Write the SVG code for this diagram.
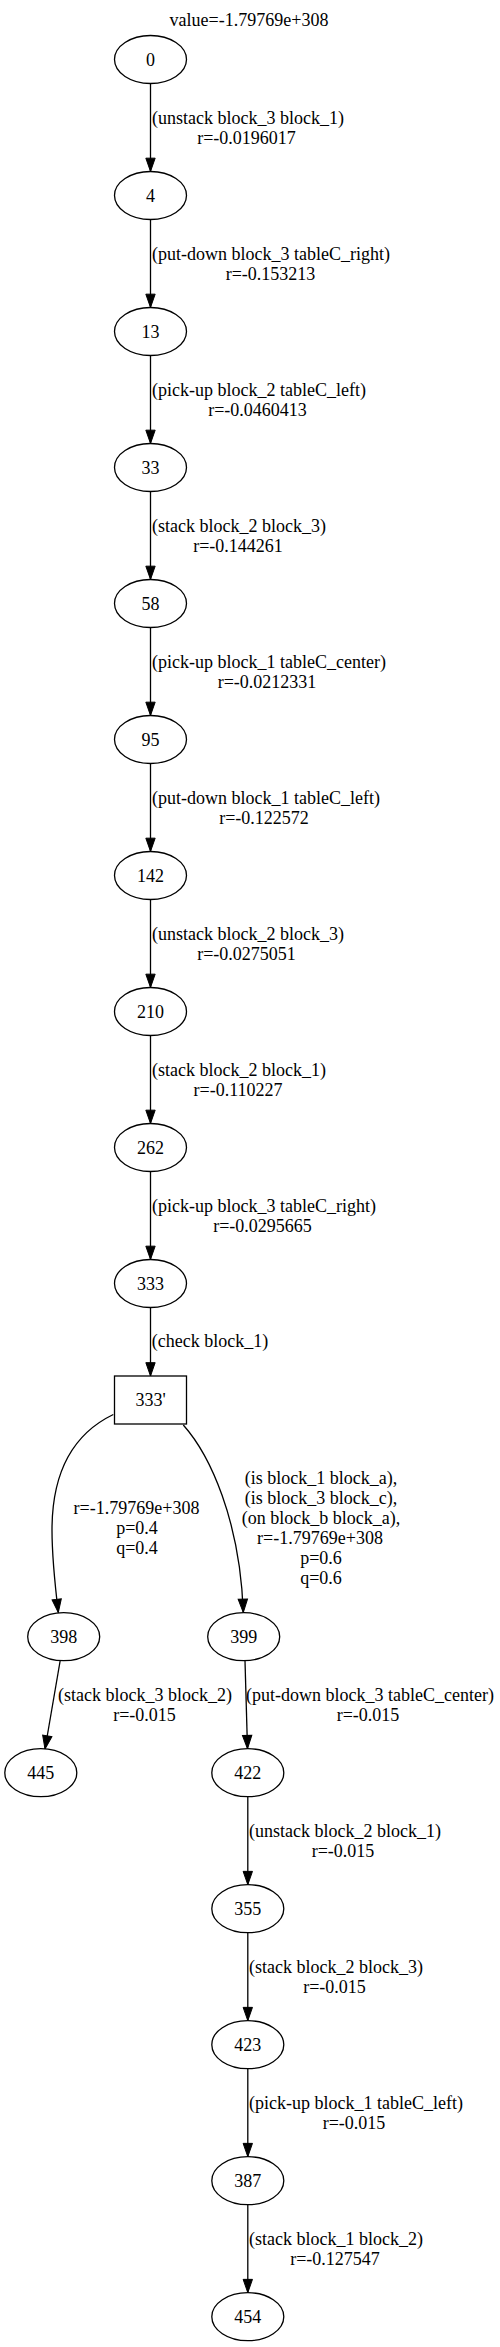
<svg xmlns="http://www.w3.org/2000/svg" width="500" height="2347" viewBox="0 0 500 2347">
<style>
text{font-family:"Liberation Serif","Times New Roman",serif;font-size:18px;text-anchor:middle;fill:#000}
.n{fill:#fff;stroke:#000;stroke-width:1.3}
.e{fill:none;stroke:#000;stroke-width:1.3}
</style>
<defs>
<marker id="arr" markerUnits="userSpaceOnUse" markerWidth="16" markerHeight="12" viewBox="0 0 16 12" refX="13.33" refY="5" orient="auto" overflow="visible">
<path d="M0,0.33 L13.33,5 L0,9.67 Z" fill="#000" stroke="#000" stroke-width="1"/>
</marker>
</defs>
<rect width="500" height="2347" fill="#fff"/>
<text x="249" y="25.5">value=-1.79769e+308</text>
<g id="connectors">
<path class="e" marker-end="url(#arr)" d="M150.5,83.5 V171.5"/>
<path class="e" marker-end="url(#arr)" d="M150.5,219.5 V307.5"/>
<path class="e" marker-end="url(#arr)" d="M150.5,355.5 V443.5"/>
<path class="e" marker-end="url(#arr)" d="M150.5,491.5 V579.5"/>
<path class="e" marker-end="url(#arr)" d="M150.5,627.5 V715.5"/>
<path class="e" marker-end="url(#arr)" d="M150.5,763.5 V851.5"/>
<path class="e" marker-end="url(#arr)" d="M150.5,899.5 V987.5"/>
<path class="e" marker-end="url(#arr)" d="M150.5,1035.5 V1123.5"/>
<path class="e" marker-end="url(#arr)" d="M150.5,1171.5 V1259.5"/>
<path class="e" marker-end="url(#arr)" d="M150.5,1307.5 V1376"/>
<path class="e" marker-end="url(#arr)" d="M113.3,1414.5 C75,1433 52,1470 52,1530 C52,1560 55,1585 58.3,1612.5"/>
<path class="e" marker-end="url(#arr)" d="M183.3,1425 C210,1455 240,1520 243.3,1612.5"/>
<path class="e" marker-end="url(#arr)" d="M60.2,1660.5 L45,1749"/>
<path class="e" marker-end="url(#arr)" d="M245,1660.7 L247.5,1748.7"/>
<path class="e" marker-end="url(#arr)" d="M247.8,1796.7 V1884.7"/>
<path class="e" marker-end="url(#arr)" d="M247.8,1932.7 V2020.7"/>
<path class="e" marker-end="url(#arr)" d="M247.8,2068.7 V2156.7"/>
<path class="e" marker-end="url(#arr)" d="M247.8,2204.7 V2292.7"/>
<text x="248" y="123.5">(unstack block_3 block_1)</text><text x="246.5" y="143.5">r=-0.0196017</text>
<text x="271" y="259.5">(put-down block_3 tableC_right)</text><text x="270.5" y="279.5">r=-0.153213</text>
<text x="259" y="395.5">(pick-up block_2 tableC_left)</text><text x="257.5" y="415.5">r=-0.0460413</text>
<text x="239" y="531.5">(stack block_2 block_3)</text><text x="238" y="551.5">r=-0.144261</text>
<text x="269" y="667.5">(pick-up block_1 tableC_center)</text><text x="267" y="687.5">r=-0.0212331</text>
<text x="266" y="803.5">(put-down block_1 tableC_left)</text><text x="264" y="823.5">r=-0.122572</text>
<text x="248" y="939.5">(unstack block_2 block_3)</text><text x="246.5" y="959.5">r=-0.0275051</text>
<text x="239" y="1075.5">(stack block_2 block_1)</text><text x="238" y="1095.5">r=-0.110227</text>
<text x="264" y="1211.5">(pick-up block_3 tableC_right)</text><text x="262.5" y="1231.5">r=-0.0295665</text>
<text x="210" y="1347">(check block_1)</text>
<text x="136.5" y="1513.5">r=-1.79769e+308</text><text x="137" y="1533.5">p=0.4</text><text x="137" y="1553.5">q=0.4</text>
<text x="321" y="1483.5">(is block_1 block_a),</text><text x="321" y="1503.5">(is block_3 block_c),</text><text x="321" y="1523.5">(on block_b block_a),</text><text x="320" y="1543.5">r=-1.79769e+308</text><text x="321" y="1563.5">p=0.6</text><text x="321" y="1583.5">q=0.6</text>
<text x="145" y="1700.5">(stack block_3 block_2)</text><text x="144.5" y="1720.5">r=-0.015</text>
<text x="370" y="1700.5">(put-down block_3 tableC_center)</text><text x="368" y="1720.5">r=-0.015</text>
<text x="345" y="1836.5">(unstack block_2 block_1)</text><text x="343" y="1856.5">r=-0.015</text>
<text x="336" y="1972.5">(stack block_2 block_3)</text><text x="334.5" y="1992.5">r=-0.015</text>
<text x="356" y="2108.5">(pick-up block_1 tableC_left)</text><text x="354" y="2128.5">r=-0.015</text>
<text x="336" y="2244.5">(stack block_1 block_2)</text><text x="335" y="2264.5">r=-0.127547</text>
</g>
<g id="n0"><ellipse class="n" cx="150.5" cy="59.5" rx="36" ry="24"/><text x="150.5" y="65.5">0</text></g>
<g id="n4"><ellipse class="n" cx="150.5" cy="195.5" rx="36" ry="24"/><text x="150.5" y="201.5">4</text></g>
<g id="n13"><ellipse class="n" cx="150.5" cy="331.5" rx="36" ry="24"/><text x="150.5" y="337.5">13</text></g>
<g id="n33"><ellipse class="n" cx="150.5" cy="467.5" rx="36" ry="24"/><text x="150.5" y="473.5">33</text></g>
<g id="n58"><ellipse class="n" cx="150.5" cy="603.5" rx="36" ry="24"/><text x="150.5" y="609.5">58</text></g>
<g id="n95"><ellipse class="n" cx="150.5" cy="739.5" rx="36" ry="24"/><text x="150.5" y="745.5">95</text></g>
<g id="n142"><ellipse class="n" cx="150.5" cy="875.5" rx="36" ry="24"/><text x="150.5" y="881.5">142</text></g>
<g id="n210"><ellipse class="n" cx="150.5" cy="1011.5" rx="36" ry="24"/><text x="150.5" y="1017.5">210</text></g>
<g id="n262"><ellipse class="n" cx="150.5" cy="1147.5" rx="36" ry="24"/><text x="150.5" y="1153.5">262</text></g>
<g id="n333"><ellipse class="n" cx="150.5" cy="1283.5" rx="36" ry="24"/><text x="150.5" y="1289.5">333</text></g>
<g id="n333p"><rect class="n" x="114.5" y="1376" width="72" height="48"/><text x="150.5" y="1406">333'</text></g>
<g id="n398"><ellipse class="n" cx="63.7" cy="1636.7" rx="36" ry="24"/><text x="63.7" y="1642.7">398</text></g>
<g id="n399"><ellipse class="n" cx="243.7" cy="1636.7" rx="36" ry="24"/><text x="243.7" y="1642.7">399</text></g>
<g id="n445"><ellipse class="n" cx="40.8" cy="1772.7" rx="36" ry="24"/><text x="40.8" y="1778.7">445</text></g>
<g id="n422"><ellipse class="n" cx="247.8" cy="1772.7" rx="36" ry="24"/><text x="247.8" y="1778.7">422</text></g>
<g id="n355"><ellipse class="n" cx="247.8" cy="1908.7" rx="36" ry="24"/><text x="247.8" y="1914.7">355</text></g>
<g id="n423"><ellipse class="n" cx="247.8" cy="2044.7" rx="36" ry="24"/><text x="247.8" y="2050.7">423</text></g>
<g id="n387"><ellipse class="n" cx="247.8" cy="2180.7" rx="36" ry="24"/><text x="247.8" y="2186.7">387</text></g>
<g id="n454"><ellipse class="n" cx="247.8" cy="2316.7" rx="36" ry="24"/><text x="247.8" y="2322.7">454</text></g>
</svg>
